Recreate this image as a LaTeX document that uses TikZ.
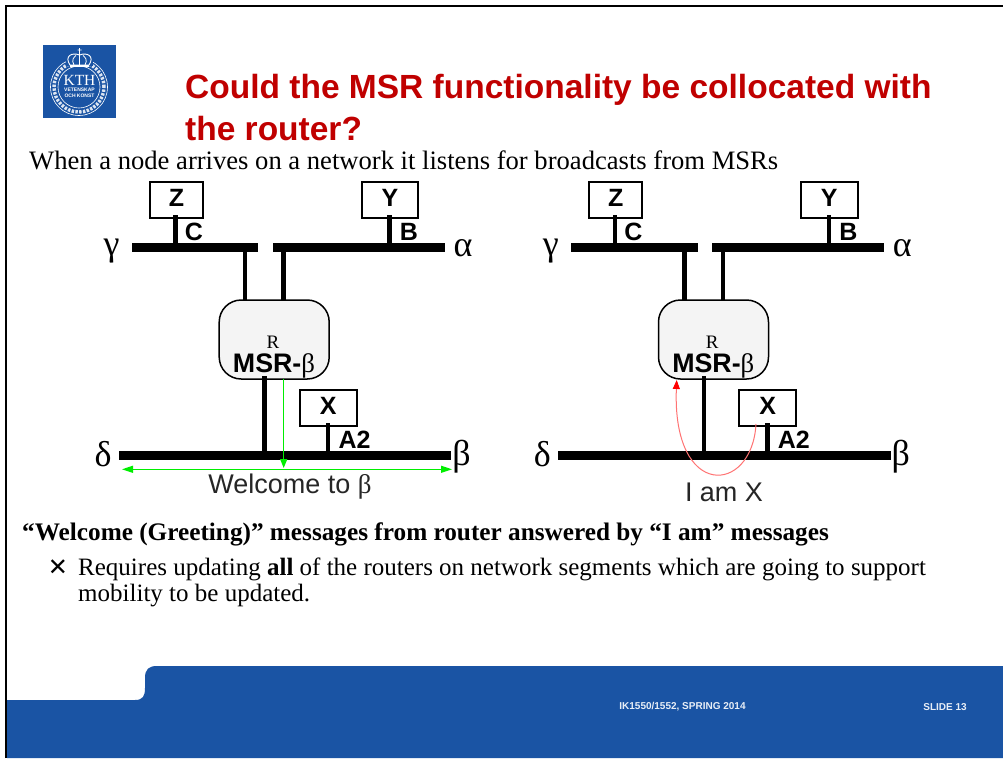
\documentclass[tikz,border=0pt]{standalone}
\usepackage{fontspec}
\setmainfont{Liberation Serif}
\setsansfont{Liberation Sans}
\newfontfamily\symfont{DejaVu Sans}
\usetikzlibrary{arrows.meta}
\definecolor{kthblue}{HTML}{1A54A4}
\definecolor{titlered}{HTML}{C00000}
\definecolor{routerfill}{HTML}{F4F4F4}
\definecolor{greenline}{HTML}{00EE00}
\newcommand{\netdiagram}[2]{%
\begin{scope}[xshift=#1pt]
\node[hostbox,minimum width=53pt,minimum height=35.7pt] (#2z) at (176,199.8) {};
\node[hostbox,minimum width=56.6pt,minimum height=35.7pt] (#2y) at (390,199.8) {};
\node[hostbox,minimum width=56.7pt,minimum height=35.7pt] (#2x) at (328.3,407.8) {};
\node[hostlabel] at (176.5,198) {Z};
\node[hostlabel] at (390,198) {Y};
\node[hostlabel] at (328.3,406) {X};
\node[routerbox] (#2r) at (274.2,339.5) {};
\node[busbar,minimum width=126.5pt] (#2g) at (195.2,247.2) {};
\node[busbar,minimum width=172pt] (#2a) at (359,247.2) {};
\node[busbar,minimum width=332.3pt] (#2d) at (285.2,455.5) {};
\coordinate (#2z1) at (175.7,215);
\coordinate (#2y1) at (389.7,215);
\coordinate (#2g1) at (245,247);
\coordinate (#2g2) at (245,301);
\coordinate (#2a1) at (283.7,247);
\coordinate (#2a2) at (283.7,301);
\coordinate (#2r1) at (264.7,376);
\coordinate (#2d1) at (264.7,455);
\coordinate (#2x1) at (328,423);
\coordinate (#2d2) at (328,455);
\draw[link] (#2z1) -- (175.7,247);
\draw[link] (#2y1) -- (389.7,247);
\draw[link] (#2g1) -- (#2g2);
\draw[link] (#2a1) -- (#2a2);
\draw[link] (#2r1) -- (#2d1);
\draw[link] (#2x1) -- (#2d2);
\node[hostlabel] at (194,232) {C};
\node[hostlabel] at (409,232) {B};
\node[hostlabel] at (354.5,439.5) {A2};
\node[greek] at (111.5,251) {γ};
\node[greek] at (463,248) {α};
\node[greek] at (103,454) {δ};
\node[greek] at (461.5,457) {β};
\node[font=\rmfamily\fontsize{19}{19}\selectfont,anchor=base,inner sep=0pt] at (273,348.5) {R};
\node[font=\sffamily\bfseries\fontsize{26.8}{27}\selectfont,anchor=base,inner sep=0pt] at (274,372) {MSR-{\rmfamily\mdseries β}};
\end{scope}}
\begin{document}
\begin{tikzpicture}[x=1pt,y=-1pt,
  hostbox/.style={draw=black,line width=2pt,fill=white,inner sep=0pt},
  hostlabel/.style={font=\sffamily\bfseries\fontsize{25}{25}\selectfont,inner sep=0pt},
  busbar/.style={fill=black,inner sep=0pt,minimum height=9pt},
  link/.style={line width=4.5pt},
  routerbox/.style={draw=black,line width=1.5pt,fill=routerfill,rounded corners=22pt,minimum width=110pt,minimum height=79pt,inner sep=0pt},
  greek/.style={font=\rmfamily\fontsize{36}{36}\selectfont,inner sep=0pt},
  msgtext/.style={font=\sffamily\fontsize{27}{27}\selectfont,inner sep=0pt,text=black!85},
  bodytext/.style={anchor=base west,inner sep=0pt,text=black},
  titletext/.style={font=\sffamily\bfseries\fontsize{33.5}{42}\selectfont,text=titlered,anchor=base west,inner sep=0pt},
  greenarrow/.style={draw=greenline,line width=1.3pt,-{Triangle[length=9pt,width=7pt]}},
  footertext/.style={font=\sffamily\bfseries\fontsize{10}{11}\selectfont,text=white!90!kthblue,inner sep=0pt}]
\useasboundingbox (0,0) rectangle (1003,758);
\fill[white] (0,0) rectangle (1003,758);
% footer band
\fill[kthblue] (7,700) -- (135,700) .. controls (143,700) and (145,696) .. (145,688) -- (145,678) .. controls (145,669) and (149,666) .. (157,666) -- (1003,666) -- (1003,758) -- (7,758) -- cycle;
\draw[black,line width=2.2pt] (6,758) -- (6,6) -- (1003,6);
% logo
\node[fill=kthblue,minimum size=73pt,inner sep=0pt] (logo) at (79.5,81) {};
\draw[white!85!kthblue,line width=3.4pt,dash pattern=on 2.4pt off 1.4pt] (79,87) circle (25pt);
\draw[white,line width=.6pt] (79,87) circle (21pt);
\draw[white,line width=.6pt] (79,87) circle (28.5pt);
\fill[kthblue] (66,48) rectangle (93,66);
\draw[white,line width=.9pt,fill=kthblue] (70,65) .. controls (64,56) and (72,52) .. (79.5,55) .. controls (87,52) and (95,56) .. (89,65) -- cycle;
\draw[white,line width=.8pt] (74,65) .. controls (71,60) and (74,57) .. (76,55.5) (79.5,65) -- (79.5,55) (85,65) .. controls (88,60) and (85,57) .. (83,55.5) (79.5,55) -- (79.5,48) (77.5,50) -- (81.5,50);
\draw[white,line width=1.4pt] (70,66) -- (89,66);
\node[font=\rmfamily\fontsize{15.5}{15.5}\selectfont,text=white,inner sep=0pt] at (79.5,80) {KTH};
\node[font=\sffamily\bfseries\fontsize{5}{6.2}\selectfont,text=white,inner sep=0pt,align=center] at (79.5,93) {VETENSKAP\\OCH KONST};
% title and text
\node[titletext] at (185,98.3) {Could the MSR functionality be collocated with};
\node[titletext] at (185,140) {the router?};
\node[bodytext,font=\rmfamily\fontsize{26.6}{27}\selectfont] at (29,169.5) {When a node arrives on a network it listens for broadcasts from MSRs};
\node[bodytext,font=\rmfamily\bfseries\fontsize{25.25}{26}\selectfont] at (22,540) {“Welcome (Greeting)” messages from router answered by “I am” messages};
\node[font=\symfont\bfseries\fontsize{24}{24}\selectfont,inner sep=0pt] at (58,568) {✕};
\node[bodytext,font=\rmfamily\fontsize{25}{25}\selectfont] at (78,575) {Requires updating \textbf{all} of the routers on network segments which are going to support};
\node[bodytext,font=\rmfamily\fontsize{25}{25}\selectfont] at (78,601) {mobility to be updated.};
\netdiagram{0}{l}
\netdiagram{439.3}{m}
% green messages
\coordinate (gs) at (283.7,379);
\coordinate (ge) at (283.7,468);
\draw[greenarrow] (gs) -- (ge);
\coordinate (ga) at (122,469.3);
\coordinate (gb) at (452,469.3);
\draw[draw=greenline,line width=1.3pt,{Triangle[length=11pt,width=7pt]}-{Triangle[length=11pt,width=7pt]}] (ga) -- (gb);
\node[msgtext] (wel) at (290,487) {Welcome to {\rmfamily β}};
% red message
\coordinate (rs) at (756,424);
\coordinate (rt) at (676.7,380);
\draw[draw=red!55,line width=1pt,-{Triangle[length=9pt,width=7pt,fill=red,color=red]}] (rs) .. controls (752,495) and (672,500) .. (rt);
\node[msgtext] (iam) at (724,492.5) {I am X};
% footer text
\node[footertext] (f1) at (682.5,707) {IK1550/1552, SPRING 2014};
\node[footertext] (f2) at (945,707) {SLIDE 13};
\end{tikzpicture}
\end{document}
